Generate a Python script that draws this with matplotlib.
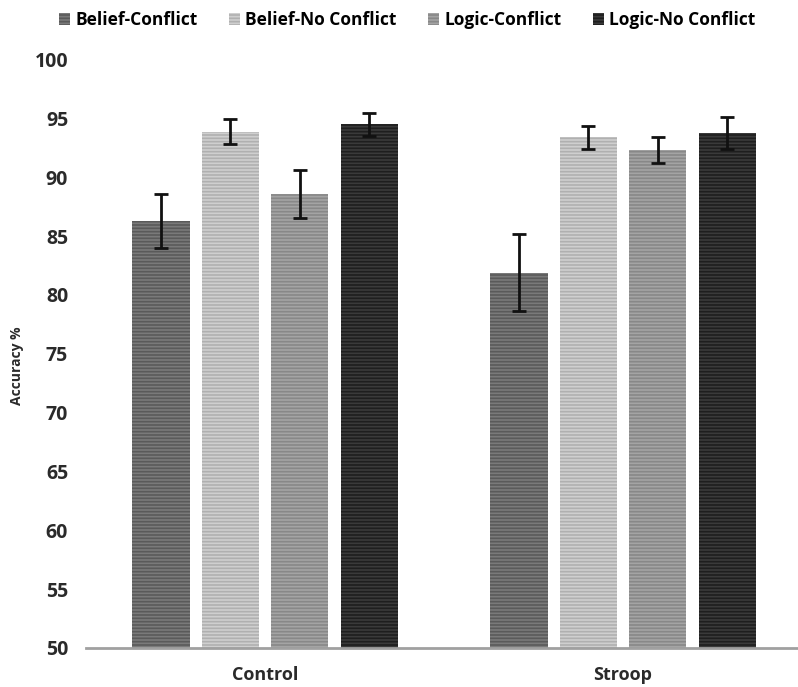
import matplotlib.pyplot as plt
import numpy as np

plt.rcParams["font.family"] = ["Open Sans", "DejaVu Sans"]
plt.rcParams["font.weight"] = "bold"
plt.rcParams["hatch.linewidth"] = 1.2

groups = ["Control", "Stroop"]
series = ["Belief-Conflict", "Belief-No Conflict", "Logic-Conflict", "Logic-No Conflict"]
values = {
    "Belief-Conflict": [86.3, 81.9],
    "Belief-No Conflict": [93.9, 93.4],
    "Logic-Conflict": [88.6, 92.3],
    "Logic-No Conflict": [94.5, 93.8],
}
errors = {
    "Belief-Conflict": [2.3, 3.25],
    "Belief-No Conflict": [1.1, 1.0],
    "Logic-Conflict": [2.05, 1.1],
    "Logic-No Conflict": [1.0, 1.35],
}
face = ["#7a7a7a", "#cfcfcf", "#a4a4a4", "#3a3a3a"]
stripe = ["#5a5a5a", "#b0b0b0", "#888888", "#1e1e1e"]

fig = plt.figure(figsize=(7.98, 6.87), dpi=100)
ax = fig.add_axes([0.108, 0.057, 0.897, 0.856])

x = np.arange(len(groups))
width = 0.16
step = 0.194
for i, s in enumerate(series):
    pos = x + (i - 1.5) * step
    ax.bar(pos, np.array(values[s]) - 50, width, bottom=50, color=face[i],
           edgecolor=stripe[i], hatch="-----", linewidth=0, label=s)
    ax.errorbar(pos, values[s], yerr=errors[s], fmt="none", ecolor="#111111",
                elinewidth=2, capsize=5, capthick=2)

ax.set_xlim(-0.5, 1.5)
ax.set_ylim(50, 100)
ax.set_yticks(range(50, 101, 5))
ax.set_xticks(x)
ax.set_xticklabels(groups, fontsize=13, fontweight="bold", color="#2a2a2a")
for lbl in ax.get_yticklabels():
    lbl.set_fontweight("bold")
ax.tick_params(axis="y", length=0, labelsize=14, pad=13, colors="#2a2a2a")
ax.tick_params(axis="x", length=0, pad=13)
for sp in ["top", "right", "left"]:
    ax.spines[sp].set_visible(False)
ax.spines["bottom"].set_color("#a0a0a0")
ax.spines["bottom"].set_linewidth(2)
ax.set_ylabel("Accuracy %", fontsize=10, fontweight="bold", color="#2a2a2a")
ax.yaxis.set_label_coords(-0.087, 0.48)

handles, labels = ax.get_legend_handles_labels()
fig.legend(handles, labels, loc="upper center", bbox_to_anchor=(0.51, 1.007), ncol=4,
           frameon=False, prop={"size": 12.5, "weight": "bold"}, handlelength=0.65,
           handleheight=0.65, handletextpad=0.3, columnspacing=1.8)

fig.savefig("out.png", dpi=100)
